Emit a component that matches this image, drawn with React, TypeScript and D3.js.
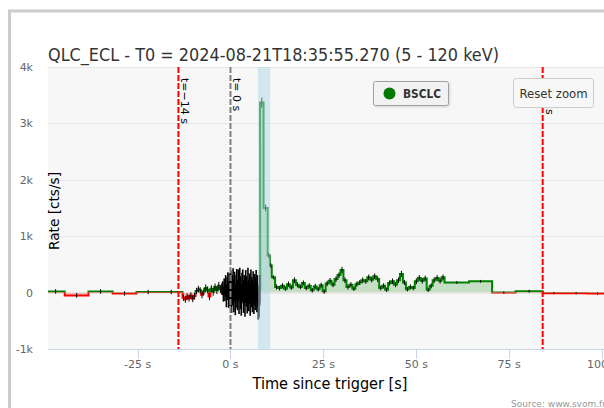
import React from 'react';
import * as d3 from 'd3';

const W = 604;
const H = 408;
const plot = { left: 48, top: 67, right: 604, bottom: 349 };

const titleText = 'QLC_ECL - T0 = 2024-08-21T18:35:55.270 (5 - 120 keV)';
const seriesName = 'BSCLC';
const xAxisTitle = 'Time since trigger [s]';
const yAxisTitle = 'Rate [cts/s]';
const sourceText = 'Source: www.svom.fr';
const resetText = 'Reset zoom';

const yTicks = [-1000, 0, 1000, 2000, 3000, 4000];
const yTickLabels = ['-1k', '0', '1k', '2k', '3k', '4k'];
const xTicks = [-25, 0, 25, 50, 75, 100];
const xTickLabels = ['-25 s', '0 s', '25 s', '50 s', '75 s', '100 s'];

const markerTimes = [-14, 0, 84];
const markerLabels = ['t=\u221214 s', 't= 0 s', 't=84 s'];
const markerColors = ['#ff0000', '#808080', '#ff0000'];
const burstBand = [7.4, 10.7];

// long background bins before the trigger
const bgEdges = [-49.5, -44.6, -38.2, -31.7, -25.3, -19.0, -12.9];
const bgRates = [20, -50, 20, -15, 10, 10];
const bgErrors = [40, 40, 40, 40, 40, 40];

// 0.5 s bins leading up to the trigger
const preStart = -12.9;
const preWidth = 0.5;
const preRates = [-90, -120, -70, -100, -50, -110, -60, 30, 60, 40, -40, 20, 80, 50, -70, 70, 10, 100, 40, 120, 60];
const preErrors = [55, 60, 55, 60, 55, 60, 60, 55, 60, 55, 60, 60, 65, 60, 65, 60, 65, 60, 65, 70, 70];

// 0.2 s bins around the trigger
const noiseStart = -2.4;
const noiseWidth = 0.2;
const noiseRates = [
  60, 90, -30, 110, 10, 130, -60, 70, 140, -40, 100, 10,
  120, -80, 40, 150, -60, 100, -120, 20, 140, -40, 120, -100, 160, 0, -130, 80,
  130, -70, 40, -150, 110, 20, -90, 150, -50, 70, -120, 130, 10, -60, 100, -110,
  50, -20, 120, -80, 30, -200, -150, 40,
];
const noiseErrors = [
  100, 110, 130, 140, 160, 180, 200, 200, 220, 230, 240, 250,
  270, 280, 270, 280, 290, 270, 280, 290, 280, 270, 290, 280, 280, 290, 280, 270,
  280, 290, 270, 280, 290, 270, 280, 290, 280, 270, 290, 280, 270, 290, 280, 270,
  280, 290, 280, 270, 280, 280, 290, 270,
];

// burst peak
const peakEdges = [7.95, 8.9, 10.0, 10.6, 11.1, 12.0];
const peakRates = [3370, 1500, 660, 480, 270];
const peakErrors = [90, 60, 45, 40, 35];

// 0.8 s bins of the decaying tail
const tailStart = 12.0;
const tailWidth = 0.8;
const tailRates = [
  100, 80, 120, 70, 150, 90, 220, 140, 100, 170, 80, 120, 40, 110, 60, 130, 20, 160, 210, 140,
  240, 310, 400, 220, 100, 140, 70, 150, 180, 220, 200, 270, 230, 290, 240, 80, 120, 50, 170, 200,
  140, 220, 330, 180, 60, 100, 80, 200, 260, 210, 250, 50, 120, 220, 260, 210, 270,
];
const tailErrors = [
  45, 40, 45, 40, 45, 40, 50, 45, 40, 45, 40, 45, 40, 45, 40, 45, 40, 45, 50, 45,
  50, 50, 55, 50, 45, 45, 40, 45, 45, 50, 45, 50, 50, 50, 50, 40, 45, 40, 45, 50,
  45, 50, 55, 45, 40, 45, 40, 50, 50, 50, 50, 40, 45, 50, 50, 50, 50,
];

// long bins after the burst
const lateEdges = [57.6, 64.2, 70.4, 76.7, 84.0, 90.0, 96.0, 101.5];
const lateRates = [180, 200, 0, 25, -10, -12, -18];
const lateErrors = [25, 25, 20, 25, 20, 20, 20];

type Bin = { x0: number; x1: number; v: number; e: number };

function fromEdges(edges: number[], rates: number[], errs: number[]): Bin[] {
  return rates.map((v, i) => ({ x0: edges[i], x1: edges[i + 1], v, e: errs[i] }));
}
function fromWidth(start: number, width: number, rates: number[], errs: number[]): Bin[] {
  return rates.map((v, i) => ({ x0: start + i * width, x1: start + (i + 1) * width, v, e: errs[i] }));
}

const bins: Bin[] = [
  ...fromEdges(bgEdges, bgRates, bgErrors),
  ...fromWidth(preStart, preWidth, preRates, preErrors),
  ...fromWidth(noiseStart, noiseWidth, noiseRates, noiseErrors),
  ...fromEdges(peakEdges, peakRates, peakErrors),
  ...fromWidth(tailStart, tailWidth, tailRates, tailErrors),
  ...fromEdges(lateEdges, lateRates, lateErrors),
];

const FONT = '"DejaVu Sans", "Lucida Grande", Verdana, sans-serif';

export default function App() {
  const x = d3.scaleLinear().domain([-49.1, 100.5]).range([plot.left, plot.right]);
  const y = d3.scaleLinear().domain([-1000, 4000]).range([plot.bottom, plot.top]);
  const y0 = y(0);

  const pts: [number, number][] = [];
  bins.forEach((b) => {
    pts.push([b.x0, b.v]);
    pts.push([b.x1, b.v]);
  });

  const line = d3.line<[number, number]>().x((d) => x(d[0])).y((d) => y(d[1]));
  const area = d3
    .area<[number, number]>()
    .x((d) => x(d[0]))
    .y0(y0)
    .y1((d) => y(d[1]));
  const linePath = line(pts) || '';
  const areaPath = area(pts) || '';

  const pw = plot.right - plot.left;
  const ph = plot.bottom - plot.top;

  return (
    <svg
      width={W}
      height={H}
      style={{ position: 'absolute', left: 0, top: 0, background: '#fff' }}
      fontFamily={FONT}
    >
      <defs>
        <clipPath id="plotClip">
          <rect x={plot.left} y={plot.top} width={pw} height={ph} />
        </clipPath>
        <clipPath id="posClip">
          <rect x={plot.left} y={plot.top - 5} width={pw} height={y0 - plot.top + 5} />
        </clipPath>
        <clipPath id="negClip">
          <rect x={plot.left} y={y0} width={pw} height={plot.bottom - y0} />
        </clipPath>
        <filter id="legShadow" x="-10%" y="-10%" width="130%" height="150%">
          <feDropShadow dx="1" dy="1" stdDeviation="1" floodColor="#000" floodOpacity="0.15" />
        </filter>
      </defs>

      {/* outer frame */}
      <path d={`M9.5,${H} V11 H${W}`} fill="none" stroke="#cccccc" strokeWidth={3} />

      {/* title */}
      <text x={48} y={61} fontSize={18} fill="#333333" textLength={451} lengthAdjust="spacingAndGlyphs">
        {titleText}
      </text>

      {/* plot background */}
      <rect x={plot.left} y={plot.top} width={pw} height={ph} fill="#f7f7f7" />

      {/* grid */}
      {yTicks.map((t) =>
        t === -1000 ? null : (
          <line key={t} x1={plot.left} x2={plot.right} y1={Math.round(y(t)) + 0.5} y2={Math.round(y(t)) + 0.5} stroke="#e6e6e6" />
        )
      )}

      <g clipPath="url(#plotClip)">
        {/* filled step area, split at zero */}
        <g clipPath="url(#posClip)">
          <path d={areaPath} fill="rgba(0,128,0,0.2)" />
        </g>
        <g clipPath="url(#negClip)">
          <path d={areaPath} fill="rgba(255,0,0,0.2)" />
        </g>
        {/* step line */}
        <g clipPath="url(#posClip)">
          <path d={linePath} fill="none" stroke="#008000" strokeWidth={2} />
        </g>
        <g clipPath="url(#negClip)">
          <path d={linePath} fill="none" stroke="#ff0000" strokeWidth={2} />
        </g>
        {/* error bars; closely packed bars get a slightly heavier stroke */}
        {bins.map((b, i) => {
          const cx = x((b.x0 + b.x1) / 2);
          const narrow = x(b.x1) - x(b.x0) < 1.5;
          return (
            <line
              key={i}
              x1={cx}
              x2={cx}
              y1={y(b.v - b.e)}
              y2={y(b.v + b.e)}
              stroke="#000"
              strokeWidth={narrow ? 1.6 : 1}
            />
          );
        })}

        {/* trigger markers */}
        {markerTimes.map((t, i) => (
          <line
            key={t}
            x1={x(t)}
            x2={x(t)}
            y1={plot.top}
            y2={plot.bottom}
            stroke={markerColors[i]}
            strokeWidth={2}
            strokeDasharray="6,2"
          />
        ))}

        {/* burst interval band */}
        <rect
          x={x(burstBand[0])}
          y={plot.top}
          width={x(burstBand[1]) - x(burstBand[0])}
          height={ph}
          fill="rgba(173,216,230,0.5)"
        />
      </g>

      {/* marker labels */}
      {markerTimes.map((t, i) => (
        <text key={t} transform={`translate(${x(t) + 3},78) rotate(90)`} fontSize={11} fill="#000">
          {markerLabels[i]}
        </text>
      ))}

      {/* x axis */}
      <line x1={plot.left} x2={plot.right} y1={plot.bottom + 0.5} y2={plot.bottom + 0.5} stroke="#ccd6eb" />
      {xTicks.map((t, i) => (
        <g key={t}>
          <line x1={Math.round(x(t)) + 0.5} x2={Math.round(x(t)) + 0.5} y1={plot.bottom} y2={plot.bottom + 10} stroke="#ccd6eb" />
          <text x={x(t)} y={368} fontSize={11} fill="#666666" textAnchor="middle">
            {xTickLabels[i]}
          </text>
        </g>
      ))}
      <text x={330} y={389} fontSize={15} fill="#000" textAnchor="middle" textLength={155} lengthAdjust="spacingAndGlyphs">
        {xAxisTitle}
      </text>

      {/* y axis */}
      {yTicks.map((t, i) => (
        <text key={t} x={33} y={y(t) + 4} fontSize={11} fill="#666666" textAnchor="end">
          {yTickLabels[i]}
        </text>
      ))}
      <text
        transform={`translate(59,${(plot.top + plot.bottom) / 2 + 3}) rotate(-90)`}
        fontSize={14}
        fill="#000"
        textAnchor="middle"
        textLength={78}
        lengthAdjust="spacingAndGlyphs"
      >
        {yAxisTitle}
      </text>

      {/* legend */}
      <rect x={373.5} y={81.5} width={75} height={24} rx={2} fill="#f2f2f2" stroke="#a0a0a0" filter="url(#legShadow)" />
      <circle cx={389.5} cy={93.5} r={6} fill="#007a00" />
      <text x={403} y={98} fontSize={12} fontWeight="bold" fill="#333333" textLength={38} lengthAdjust="spacingAndGlyphs">
        {seriesName}
      </text>

      {/* reset zoom button */}
      <rect x={513.5} y={78.5} width={80} height={29} rx={3} fill="#f7f7f7" stroke="#cccccc" />
      <text x={553.5} y={97.5} fontSize={13} fill="#333333" textAnchor="middle" textLength={68} lengthAdjust="spacingAndGlyphs">
        {resetText}
      </text>

      {/* credits */}
      <text x={511} y={407} fontSize={9} fill="#999999">
        {sourceText}
      </text>
    </svg>
  );
}
